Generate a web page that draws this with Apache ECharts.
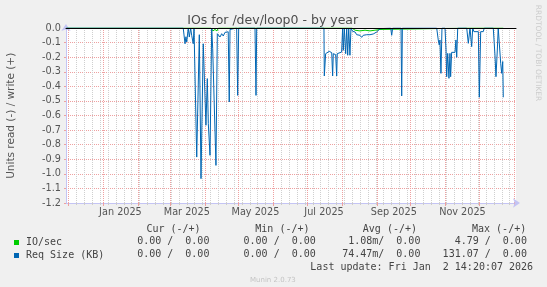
<!DOCTYPE html>
<html><head><meta charset="utf-8">
<script src="https://cdn.jsdelivr.net/npm/echarts@6/dist/echarts.min.js"></script>
<style>html,body{margin:0;padding:0;background:#f0f0f0}#c{width:547px;height:287px}</style>
</head><body><div id="c"></div>
<script>
// x values are days from 2025-01-01
const xMin = -33.4, xMax = 366.6;
const monthStarts = [-31, 0, 31, 59, 90, 120, 151, 181, 212, 243, 273, 304, 334, 365];
const labelDays = [15, 74, 135, 196, 258, 319];
const labelTexts = ['Jan 2025', 'Mar 2025', 'May 2025', 'Jul 2025', 'Sep 2025', 'Nov 2025'];
const firstSunday = -31;

const reqDays = [-33, 70.8, 72.4, 73.2, 73.9, 75.3, 76.2, 77.4, 78.3, 79.7, 80.4, 82.8, 85.1, 86.6, 88.6, 90.1, 91.0, 92.2, 93.1, 94.6, 96.1, 97.0, 98.1, 99.9, 101.1, 102.0, 103.5, 105.0, 106.4, 107.9, 109.4, 110.8, 111.7, 112.4, 113.2, 118.3, 119.2, 120.1, 134.6, 135.5, 136.1, 195.9, 196.2, 197.4, 198.8, 200.6, 202.8, 203.6, 204.2, 206.3, 207.2, 207.7, 211.6, 212.5, 213.1, 214.0, 215.2, 216.1, 217.0, 217.9, 219.0, 219.9, 221.4, 223.5, 225.0, 226.4, 227.9, 229.4, 230.8, 232.4, 233.9, 235.3, 236.8, 238.3, 239.7, 241.2, 242.8, 244.2, 245.7, 246.6, 255.2, 256.1, 257.0, 264.4, 265.0, 265.6, 279.0, 279.7, 280.4, 296.1, 297.5, 298.4, 299.0, 299.9, 300.8, 303.5, 304.4, 305.0, 305.9, 307.0, 307.9, 308.5, 309.4, 312.4, 313.2, 313.9, 314.8, 322.8, 324.2, 325.7, 327.2, 328.1, 329.2, 333.1, 334.0, 335.2, 337.5, 338.4, 346.4, 347.9, 348.8, 350.0, 350.8, 351.7, 353.0, 353.9, 354.8, 355.3];
const reqValues = [0, 0, -0.108, -0.06, -0.096, 0, -0.062, 0, -0.05, -0.108, 0, -0.885, -0.046, -1.033, -0.108, -0.108, -0.667, -0.347, -0.656, -0.873, 0, -0.142, -0.13, -0.942, -0.039, -0.05, -0.062, -0.039, -0.055, -0.03, -0.026, -0.026, -0.507, -0.01, 0, 0, -0.462, 0, 0, -0.462, 0, 0, -0.329, -0.176, -0.169, -0.16, -0.169, -0.329, -0.176, -0.183, -0.329, -0.176, -0.165, 0, -0.153, 0, -0.176, 0, -0.187, 0, -0.187, 0, -0.023, -0.027, -0.046, -0.057, -0.05, -0.064, -0.05, -0.057, -0.046, -0.057, -0.046, -0.05, -0.041, -0.046, -0.027, -0.034, -0.005, 0, 0, -0.05, 0, 0, -0.466, 0, 0, -0.012, 0, 0, -0.082, -0.117, -0.082, -0.311, 0, 0, -0.151, -0.334, -0.174, -0.345, -0.174, -0.334, -0.167, -0.167, -0.082, -0.201, 0, 0, -0.105, 0, -0.128, 0, -0.025, -0.025, -0.475, -0.025, -0.025, 0, 0, -0.185, -0.334, -0.151, 0, 0, -0.242, -0.311, -0.23, -0.475];

const ioDays = [-33, 95.5, 97.2, 99.0, 100.8, 102.1, 220.8, 223.5, 227.9, 232.4, 236.8, 241.2, 245.7, 246.6, 327.9, 328.6, 329.2, 355.3];
const ioValues = [0, 0, -0.02, -0.01, -0.02, 0, 0, -0.015, -0.02, -0.015, -0.02, -0.015, -0.01, 0, 0, -0.012, 0, 0];

const seriesNames = ['IO/sec', 'Req Size (KB)'];
const seriesColors = ['#00cc00', '#0066b3'];
const headers = ['Cur (-/+)', 'Min (-/+)', 'Avg (-/+)', 'Max (-/+)'];
const ioStats = ['0.00 /  0.00', '0.00 /  0.00', '1.08m/  0.00', '4.79 /  0.00'];
const reqStats = ['0.00 /  0.00', '0.00 /  0.00', '74.47m/  0.00', '131.07 /  0.00'];
const lastUpdate = 'Last update: Fri Jan  2 14:20:07 2026';

const weeks = [];
for (let d = firstSunday; d <= xMax; d += 7) weeks.push(d);

const chart = echarts.init(document.getElementById('c'), null, {renderer: 'canvas'});
const mono = '10px "DejaVu Sans Mono"';
const headX = [200.6, 309.5, 417, 526.2];
const valX = [209.4, 315.8, 420.4, 526.9];
const g = [];
g.push({type: 'text', x: 272.7, y: 21, style: {text: 'IOs for /dev/loop0 - by year', font: '12.5px "DejaVu Sans"', fill: '#4d4d4d', align: 'center', verticalAlign: 'middle'}});
g.push({type: 'text', x: 10.8, y: 115.8, rotation: Math.PI / 2, style: {text: 'Units read (-) / write (+)', font: '10.5px "DejaVu Sans"', fill: '#555', align: 'center', verticalAlign: 'middle'}});
g.push({type: 'text', x: 538, y: 53, rotation: -Math.PI / 2, style: {text: 'RRDTOOL / TOBI OETIKER', font: '7.5px "DejaVu Sans"', fill: '#cccccc', align: 'center', verticalAlign: 'middle'}});
headers.forEach((h, i) => g.push({type: 'text', x: headX[i], y: 229.2, style: {text: h, font: mono, fill: '#444', align: 'right', verticalAlign: 'middle'}}));
ioStats.forEach((h, i) => g.push({type: 'text', x: valX[i], y: 241.4, style: {text: h, font: mono, fill: '#444', align: 'right', verticalAlign: 'middle'}}));
reqStats.forEach((h, i) => g.push({type: 'text', x: valX[i], y: 254.3, style: {text: h, font: mono, fill: '#444', align: 'right', verticalAlign: 'middle'}}));
g.push({type: 'text', x: 533.1, y: 267.2, style: {text: lastUpdate, font: mono, fill: '#444', align: 'right', verticalAlign: 'middle'}});
g.push({type: 'text', x: 272.9, y: 279.8, style: {text: 'Munin 2.0.73', font: '7px "DejaVu Sans"', fill: '#c4c4c4', align: 'center', verticalAlign: 'middle'}});

const axisFont = {fontFamily: 'DejaVu Sans', fontSize: 9.7, color: '#555'};
chart.setOption({
  animation: false,
  backgroundColor: '#f0f0f0',
  grid: {left: 66, top: 28, width: 450, height: 175, show: true, backgroundColor: '#ffffff', borderWidth: 0, outerBoundsMode: 'none'},
  legend: {
    orient: 'vertical', left: 14, top: 236, padding: 0, itemWidth: 5, itemHeight: 5, itemGap: 0, icon: 'rect',
    textStyle: {fontFamily: 'DejaVu Sans Mono', fontSize: 10, color: '#444', lineHeight: 13, padding: [0, 0, 0, 2]},
    data: seriesNames, selectedMode: false
  },
  xAxis: [
    {type: 'value', min: xMin, max: xMax, position: 'bottom',
      axisLine: {show: false, onZero: false}, axisLabel: {show: false},
      axisTick: {show: true, customValues: weeks, length: 2, lineStyle: {color: '#cccccc'}},
      splitLine: {show: true, lineStyle: {color: '#cfcfcf', type: [1, 1], width: 1}}},
    {type: 'value', min: xMin, max: xMax, position: 'bottom',
      axisLine: {show: true, onZero: false, lineStyle: {color: '#c4c4f4'}, symbol: ['none', 'arrow'], symbolSize: [7, 7], symbolOffset: [0, 4]},
      axisTick: {show: true, customValues: monthStarts, length: 3, lineStyle: {color: '#eea0a0'}},
      axisLabel: Object.assign({customValues: labelDays, margin: 4, formatter: v => labelTexts[labelDays.indexOf(v)] || ''}, axisFont),
      splitLine: {show: true, lineStyle: {color: '#eea0a0', type: [1, 1], width: 1}}},
    {type: 'value', min: xMin, max: xMax, position: 'top', z: 10,
      axisLine: {show: true, onZero: false, lineStyle: {color: '#000000', width: 1}}, axisTick: {show: false}, axisLabel: {show: false}, splitLine: {show: false}}
  ],
  yAxis: {type: 'value', min: -1.2, max: 0, interval: 0.1,
    axisLine: {show: true, onZero: false, lineStyle: {color: '#c4c4f4'}, symbol: ['none', 'arrow'], symbolSize: [7, 7], symbolOffset: [0, 4]},
    axisTick: {show: true, length: 2, lineStyle: {color: '#eea0a0'}},
    axisLabel: Object.assign({margin: 5, formatter: v => v.toFixed(1)}, axisFont),
    splitLine: {show: true, lineStyle: {color: '#eea0a0', type: [1, 1], width: 1}}},
  series: [
    {name: seriesNames[0], type: 'line', xAxisIndex: 1, z: 2, symbol: 'none', showSymbol: false,
      lineStyle: {width: 1, color: seriesColors[0]}, itemStyle: {color: seriesColors[0]},
      data: ioDays.map((d, i) => [d, ioValues[i]])},
    {name: seriesNames[1], type: 'line', xAxisIndex: 1, z: 3, symbol: 'none', showSymbol: false,
      lineStyle: {width: 1, color: seriesColors[1]}, itemStyle: {color: seriesColors[1]},
      data: reqDays.map((d, i) => [d, reqValues[i]])}
  ],
  graphic: g
});
</script></body></html>
